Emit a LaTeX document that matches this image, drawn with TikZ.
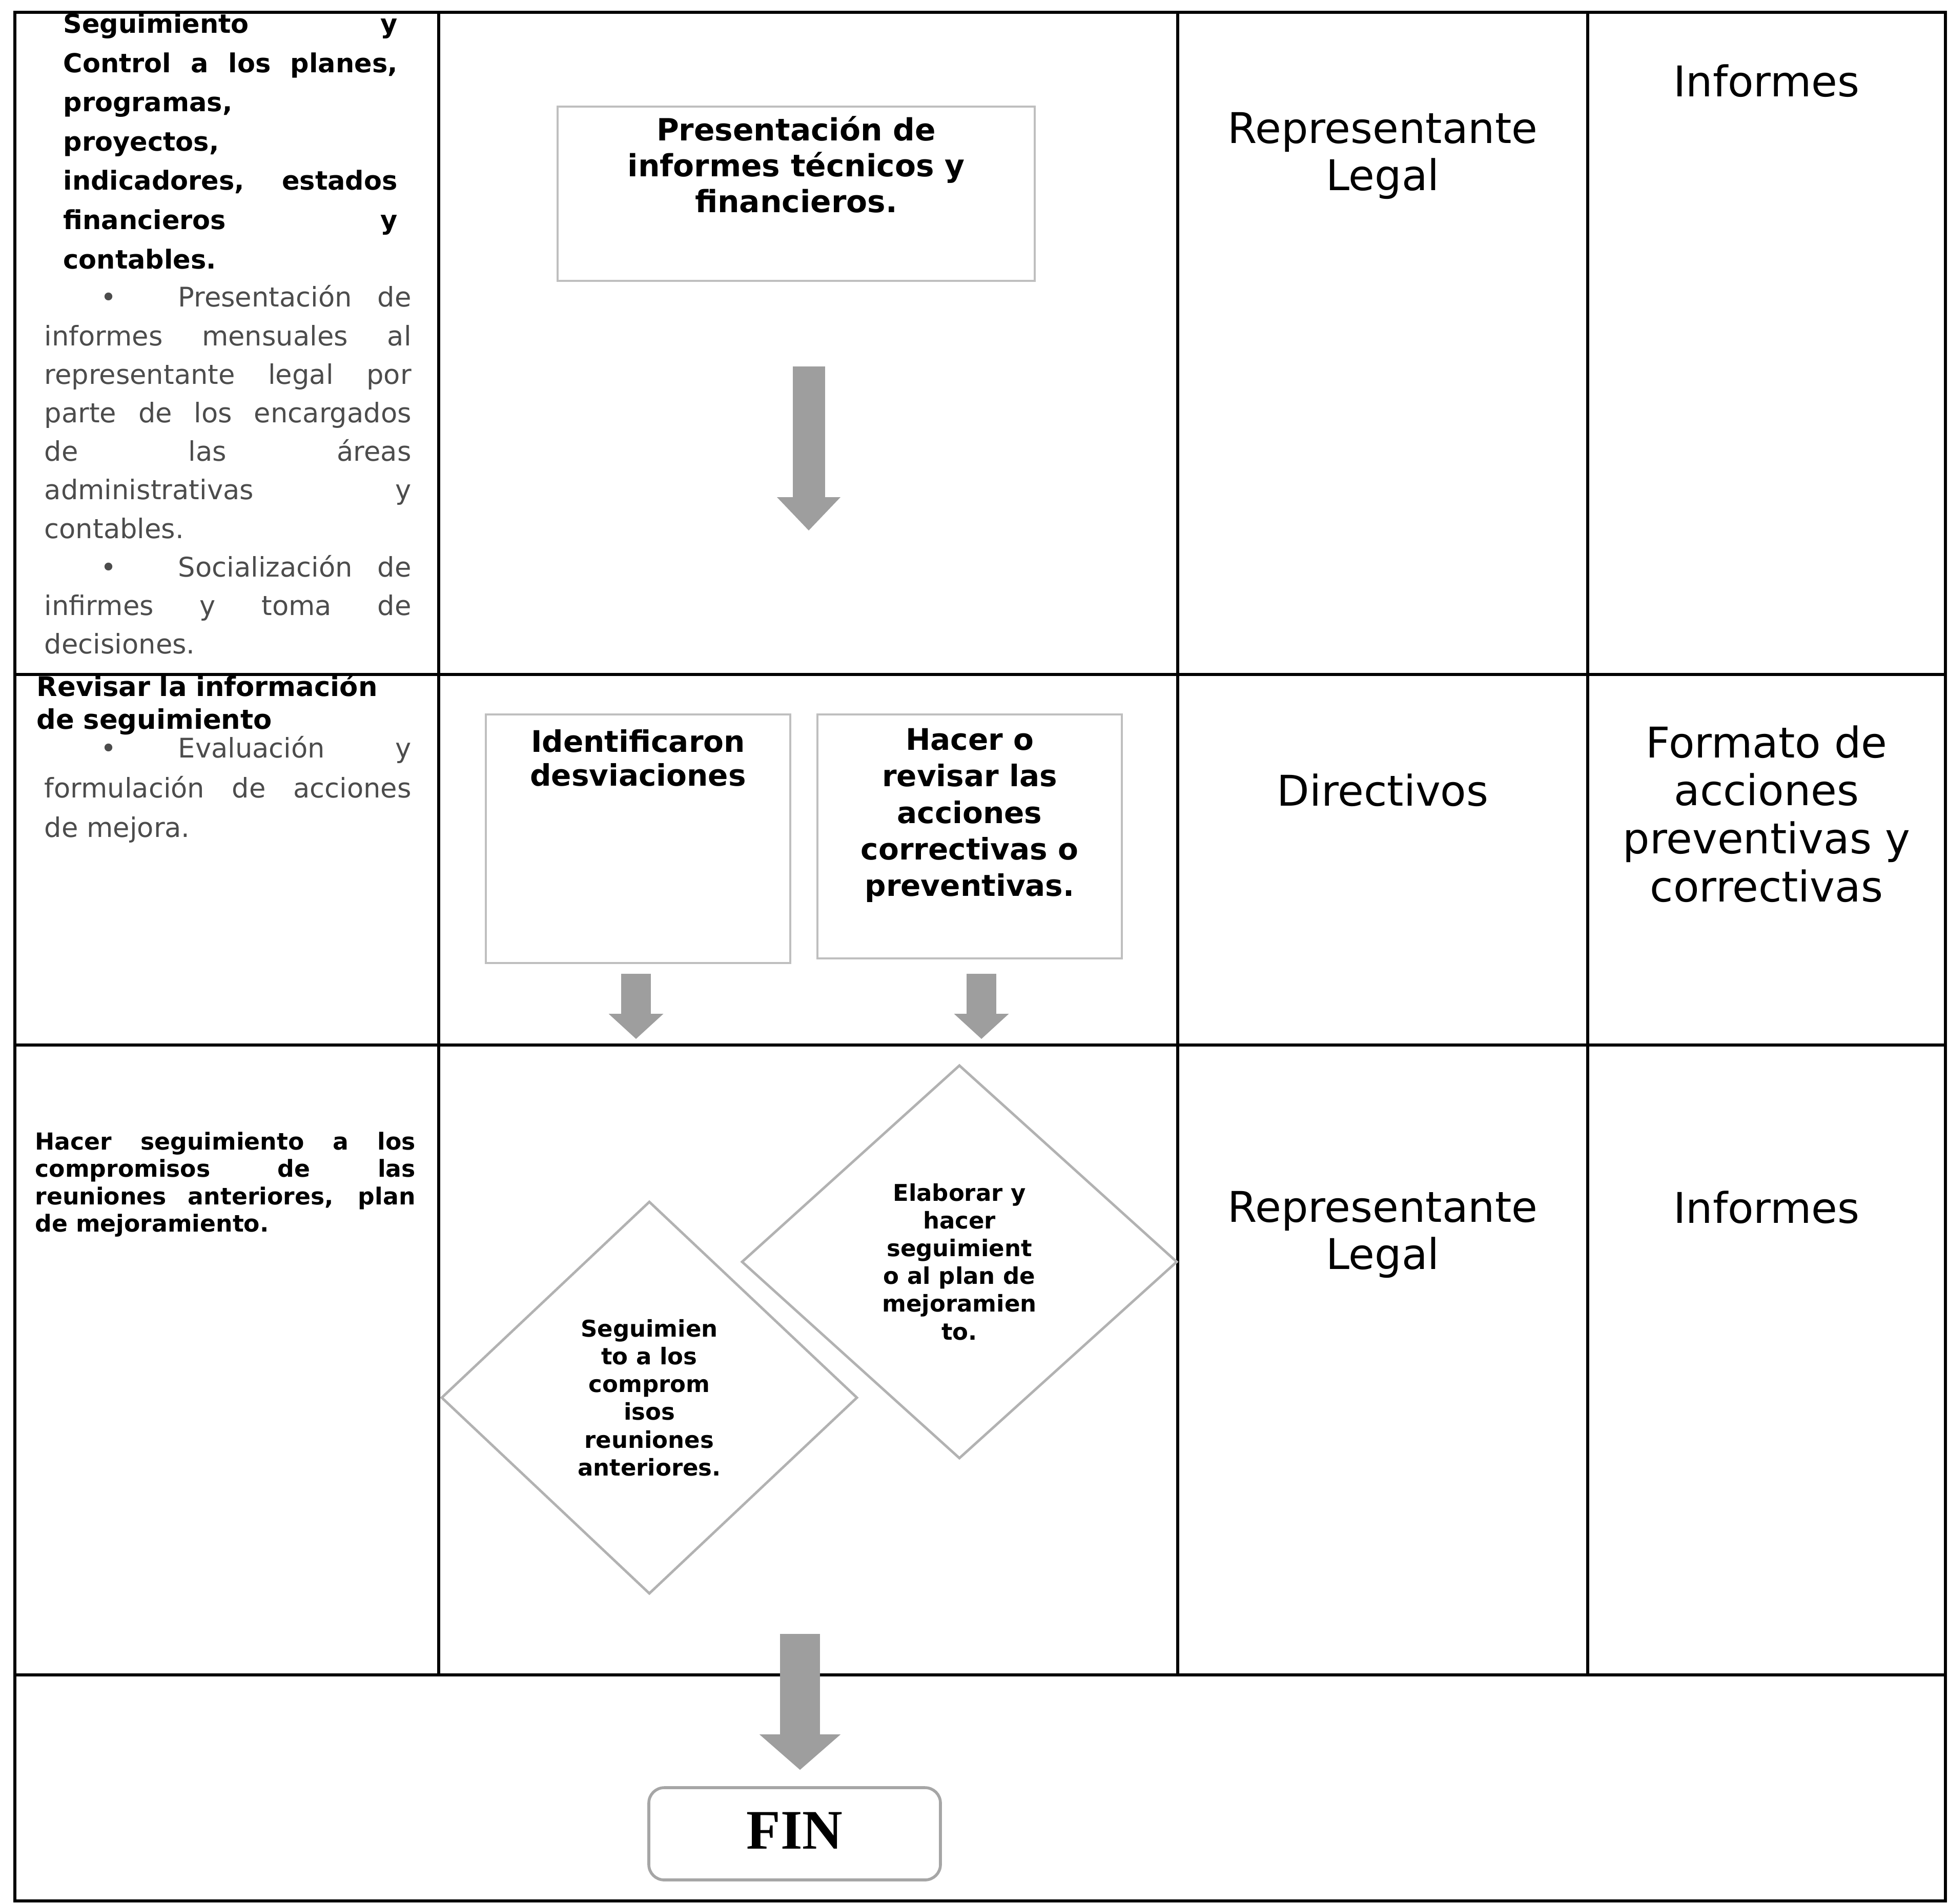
\documentclass[tikz,border=0pt]{standalone}
\usepackage{fontspec}
\setmainfont{DejaVu Sans}
\newfontfamily\finfont{Liberation Serif}
\usepackage{xcolor}
\usepackage{tikz}
\usetikzlibrary{shapes.geometric, arrows.meta, positioning}
\setlength{\parindent}{0pt}
\tikzstyle{gridline} = [line width=1.6pt, draw=black]
\tikzstyle{procbox} = [rectangle, draw=black!25, line width=1.4pt, inner sep=0pt]
\tikzstyle{boxtext} = [align=center, inner sep=0pt, font=\bfseries\fontsize{16.5}{20}\selectfont]
\tikzstyle{decision} = [diamond, draw=black!30, line width=1.4pt, inner sep=0pt, align=center, font=\bfseries\fontsize{12.8}{15.4}\selectfont]
\tikzstyle{finbox} = [rectangle, rounded corners=0.3cm, draw=black!35, line width=1.6pt, font=\finfont\bfseries\fontsize{31}{36}\selectfont]
\tikzstyle{role} = [align=center, inner sep=0pt, font=\fontsize{23.5}{26}\selectfont]
\tikzstyle{lefthead} = [anchor=north west, inner sep=0pt, align=justify, font=\bfseries\fontsize{14.5}{21.8}\selectfont]
\tikzstyle{leftbody} = [anchor=north west, inner sep=0pt, align=justify, text=black!70, font=\fontsize{15}{21.4}\selectfont]
\tikzstyle{bigarrow} = [line width=0.63cm, draw=black!38, -{Triangle[width=1.24cm,length=0.65cm,line width=0pt]}]
\tikzstyle{smallarrow} = [line width=0.58cm, draw=black!38, -{Triangle[width=1.07cm,length=0.49cm,line width=0pt]}]
\tikzstyle{endarrow} = [line width=0.78cm, draw=black!38, -{Triangle[width=1.58cm,length=0.69cm,line width=0pt]}]

\begin{document}
\begin{tikzpicture}[node distance = 2cm]
  \useasboundingbox (0,0) rectangle (38.01,-37.14);

  % table
  \draw[gridline] (0.29,-0.24) rectangle (37.96,-37.09);
  \foreach \x in {8.56,22.98,30.98}
    \draw[gridline] (\x,-0.24) -- (\x,-32.68);
  \foreach \y in {-13.16,-20.39,-32.68}
    \draw[gridline] (0.29,\y) -- (37.96,\y);

  % activity column
  \node (act one) [lefthead, text width=6.52cm] at (1.23,-0.25)
    {Seguimiento y\linebreak Control a los planes,\linebreak programas,\newline proyectos,\newline indicadores, estados\linebreak financieros y\linebreak contables.};
  \node (act one det) [leftbody, text width=7.16cm] at (0.86,-5.56)
    {\makebox[2.61cm][l]{\hspace*{1.1cm}\textbullet}Presentación de\linebreak informes mensuales al\linebreak representante legal por\linebreak parte de los encargados\linebreak de las áreas\linebreak administrativas y\linebreak contables.\par
     \makebox[2.61cm][l]{\hspace*{1.1cm}\textbullet}Socialización de\linebreak infirmes y toma de\linebreak decisiones.};
  \node (act two) [lefthead, align=left, text width=7.3cm, font=\bfseries\fontsize{15}{18}\selectfont] at (0.71,-13.16)
    {Revisar la información\\de seguimiento};
  \node (act two det) [leftbody, text width=7.16cm, font=\fontsize{15}{22}\selectfont] at (0.86,-14.36)
    {\makebox[2.61cm][l]{\hspace*{1.1cm}\textbullet}Evaluación y\linebreak formulación de acciones\linebreak de mejora.};
  \node (act three) [lefthead, text width=7.42cm, font=\bfseries\fontsize{13}{15.2}\selectfont] at (0.68,-22.08)
    {Hacer seguimiento a los\linebreak compromisos de las\linebreak reuniones anteriores, plan\linebreak de mejoramiento.};

  % flow
  \node (pres box) [procbox, minimum width=9.31cm, minimum height=3.40cm] at (15.535,-3.78) {};
  \node (pres text) [boxtext, font=\bfseries\fontsize{17}{20}\selectfont, below=0.2cm of pres box.north] {Presentación de\\informes técnicos y\\financieros.};
  \node (ident box) [procbox, minimum width=5.94cm, minimum height=4.85cm] at (12.45,-16.365) {};
  \node (ident text) [boxtext, font=\bfseries\fontsize{16.5}{18.8}\selectfont, below=0.31cm of ident box.north] {Identificaron\\desviaciones};
  \node (hacer box) [procbox, minimum width=5.94cm, minimum height=4.76cm] at (18.92,-16.32) {};
  \node (hacer text) [boxtext, font=\bfseries\fontsize{16.5}{20.3}\selectfont, below=0.29cm of hacer box.north] {Hacer o\\revisar las\\acciones\\correctivas o\\preventivas.};
  \node (seg dec) [decision, minimum width=8.12cm, minimum height=7.66cm] at (12.67,-27.27)
    {Seguimien\\to a los\\comprom\\isos\\reuniones\\anteriores.};
  \node (plan dec) [decision, minimum width=8.50cm, minimum height=7.68cm] at (18.72,-24.62)
    {Elaborar y\\hacer\\seguimient\\o al plan de\\mejoramien\\to.};
  \node (fin) [finbox, minimum width=5.69cm, minimum height=1.80cm, text depth=0.12cm] at (15.505,-35.78) {FIN};

  \coordinate (a1 top) at (15.78,-7.15);
  \coordinate (a1 tip) at (15.78,-10.35);
  \coordinate (a2 top) at (12.41,-19.00);
  \coordinate (a2 tip) at (12.41,-20.27);
  \coordinate (a3 top) at (19.15,-19.00);
  \coordinate (a3 tip) at (19.15,-20.27);
  \coordinate (a4 top) at (15.61,-31.88);
  \draw[bigarrow] (a1 top) -- (a1 tip);
  \draw[smallarrow] (a2 top) -- (a2 tip);
  \draw[smallarrow] (a3 top) -- (a3 tip);
  \draw[endarrow] (a4 top) -- ([yshift=0.32cm]fin.north -| a4 top);

  % responsible and documents
  \node (resp one) [role] at (26.98,-3.04) {Representante\\Legal};
  \node (doc one) [role] at (34.47,-1.58) {Informes};
  \node (resp two) [role] at (26.98,-15.42) {Directivos};
  \node (doc two) [role, font=\fontsize{23.5}{26.7}\selectfont] at (34.47,-15.88) {Formato de\\acciones\\preventivas y\\correctivas};
  \node (resp three) [role] at (26.98,-24.09) {Representante\\Legal};
  \node (doc three) [role] at (34.47,-23.56) {Informes};

\end{tikzpicture}
\end{document}
